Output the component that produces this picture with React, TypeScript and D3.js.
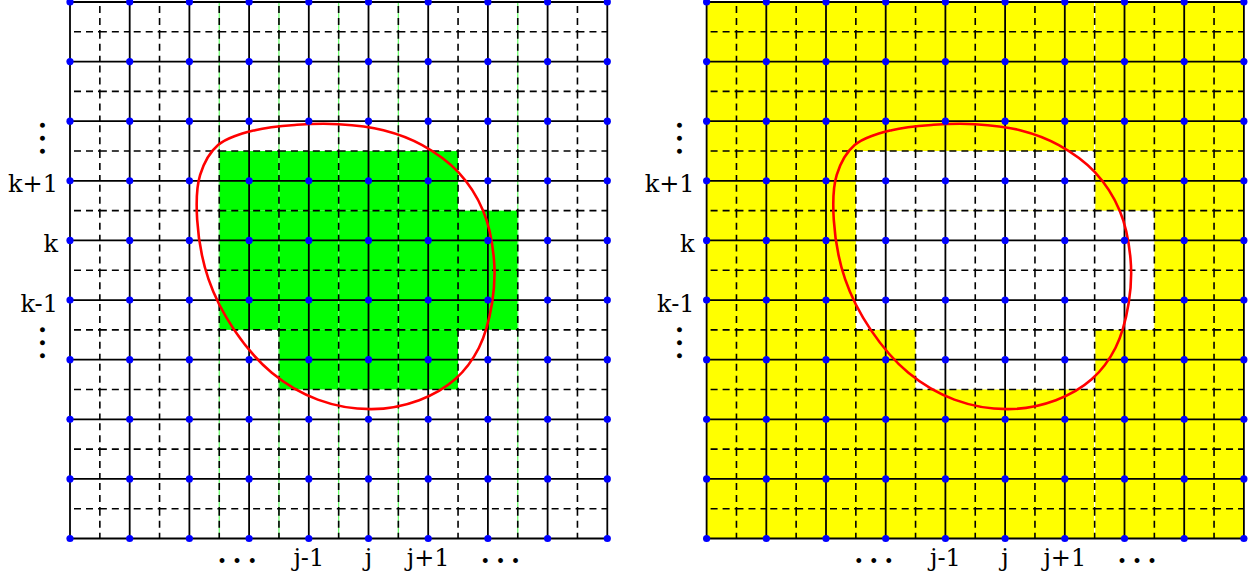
import React from "react";
import * as d3 from "d3";

// Grid size (cells per side) and the two panels' left edges
const CELLS = 9;
const PANEL_LEFT = [70, 706.6];
const PANEL_SIZE = 537.3;
const PANEL_TOP = 2;
const PANEL_HEIGHT = 536.5;

// Axis labels (index along the grid)
const rowLabels = ["k+1", "k", "k-1"];
const rowLabelIdx = [3, 4, 5];
const colLabels = ["j-1", "j", "j+1"];
const colLabelIdx = [4, 5, 6];
const colEllipsisIdx = [2.85, 7.26];
const rowEllipsisIdx = [2.32, 5.75];

// Cells inside the region, as [row0, row1, col0, col1] in grid units
const regionRows: [number, number, number, number][] = [
  [2.5, 3.5, 2.5, 6.5],
  [3.5, 5.5, 2.5, 7.5],
  [5.5, 6.5, 3.5, 6.5],
];

// Faint fill-edge lines that show through the dashed grid
const greenSeams = [2.5, 3.5, 4.5, 5.5, 7.5];
const whiteSeams = [6.5];

// Closed boundary curve, [col, row] in grid units
const boundary: [number, number][] = [
  [4.5, 2.05], [5.25, 2.15], [5.9, 2.4], [6.5, 2.85], [6.92, 3.5],
  [7.1, 4.3], [7.07, 5.05], [6.85, 5.8], [6.45, 6.33], [5.85, 6.68],
  [5.05, 6.83], [4.15, 6.67], [3.38, 6.22], [2.75, 5.5], [2.32, 4.65],
  [2.13, 3.65], [2.18, 2.9], [2.48, 2.4], [3.1, 2.15], [3.8, 2.06],
];

const FONT = "DejaVu Serif";

function Panel({ left, mode }: { left: number; mode: "inside" | "outside" }) {
  const x = d3.scaleLinear().domain([0, CELLS]).range([left, left + PANEL_SIZE]);
  const y = d3.scaleLinear().domain([0, CELLS]).range([PANEL_TOP, PANEL_TOP + PANEL_HEIGHT]);
  const whole = d3.range(0, CELLS + 1);
  const halves = d3.range(0, CELLS).map((i) => i + 0.5);
  const halfSteps = d3.range(0, CELLS * 2).map((i) => i / 2);

  const curve = d3
    .line<[number, number]>()
    .x((d) => x(d[0]))
    .y((d) => y(d[1]))
    .curve(d3.curveCatmullRomClosed.alpha(0.5));

  const dash = "7 5";

  return (
    <g>
      {mode === "outside" && (
        <rect x={x(0)} y={y(0)} width={x(CELLS) - x(0)} height={y(CELLS) - y(0)} fill="#ffff00" />
      )}
      {regionRows.map(([r0, r1, c0, c1], i) => (
        <rect
          key={"reg" + i}
          x={x(c0)}
          y={y(r0)}
          width={x(c1) - x(c0)}
          height={y(r1) - y(r0)}
          fill={mode === "inside" ? "#00ff00" : "#ffffff"}
        />
      ))}
      {(mode === "inside" ? greenSeams : whiteSeams).map((c) => (
        <line
          key={"seam" + c}
          x1={x(c)}
          x2={x(c)}
          y1={y(0)}
          y2={y(CELLS)}
          stroke={mode === "inside" ? "#66ff66" : "#ffffff"}
          strokeWidth={1.2}
        />
      ))}
      {/* dashed half-grid, drawn segment by segment */}
      {halves.map((r) =>
        halfSteps.map((c) => (
          <line
            key={"hd" + r + "_" + c}
            x1={x(c)}
            x2={x(c + 0.5)}
            y1={y(r)}
            y2={y(r)}
            stroke="#000"
            strokeWidth={1.6}
            strokeDasharray={dash}
            strokeDashoffset={c % 1 === 0 ? -4 : 0}
          />
        ))
      )}
      {halves.map((c) =>
        halfSteps.map((r) => (
          <line
            key={"vd" + c + "_" + r}
            x1={x(c)}
            x2={x(c)}
            y1={y(r)}
            y2={y(r + 0.5)}
            stroke="#000"
            strokeWidth={1.6}
            strokeDasharray={dash}
            strokeDashoffset={r % 1 === 0 ? -4 : 0}
          />
        ))
      )}
      {/* solid grid */}
      {whole.map((r) => (
        <line key={"h" + r} x1={x(0)} x2={x(CELLS)} y1={y(r)} y2={y(r)} stroke="#000" strokeWidth={1.8} />
      ))}
      {whole.map((c) => (
        <line key={"v" + c} x1={x(c)} x2={x(c)} y1={y(0)} y2={y(CELLS)} stroke="#000" strokeWidth={1.8} />
      ))}
      <path d={curve(boundary) || ""} fill="none" stroke="#ff0000" strokeWidth={2.6} />
      {whole.map((r) =>
        whole.map((c) => <circle key={"p" + r + "_" + c} cx={x(c)} cy={y(r)} r={3.6} fill="#0000ff" />)
      )}
      {/* row labels */}
      {rowLabels.map((t, i) => (
        <text
          key={"rl" + t}
          x={x(0) - 12}
          y={y(rowLabelIdx[i]) + 11.5}
          textAnchor="end"
          fontFamily={FONT}
          fontSize={24}
        >
          {t}
        </text>
      ))}
      {rowEllipsisIdx.map((r, i) => (
        <text
          key={"re" + i}
          transform={`translate(${x(0) - 28},${y(r)}) rotate(90)`}
          x={0}
          y={2}
          textAnchor="middle"
          fontFamily={FONT}
          fontSize={26}
          fontWeight="bold"
          letterSpacing={4}
        >
          {"..."}
        </text>
      ))}
      {/* column labels */}
      {colLabels.map((t, i) => (
        <text
          key={"cl" + t}
          x={x(colLabelIdx[i])}
          y={566}
          textAnchor="middle"
          fontFamily={FONT}
          fontSize={24}
        >
          {t}
        </text>
      ))}
      {colEllipsisIdx.map((c, i) => (
        <text
          key={"ce" + i}
          x={x(c)}
          y={563}
          textAnchor="middle"
          fontFamily={FONT}
          fontSize={26}
          fontWeight="bold"
          letterSpacing={6}
        >
          {"..."}
        </text>
      ))}
    </g>
  );
}

export default function App() {
  return (
    <svg
      width={1260}
      height={579}
      viewBox="0 0 1260 579"
      style={{ position: "absolute", left: 0, top: 0, background: "#fff" }}
    >
      <rect width={1260} height={579} fill="#fff" />
      <Panel left={PANEL_LEFT[0]} mode="inside" />
      <Panel left={PANEL_LEFT[1]} mode="outside" />
    </svg>
  );
}
